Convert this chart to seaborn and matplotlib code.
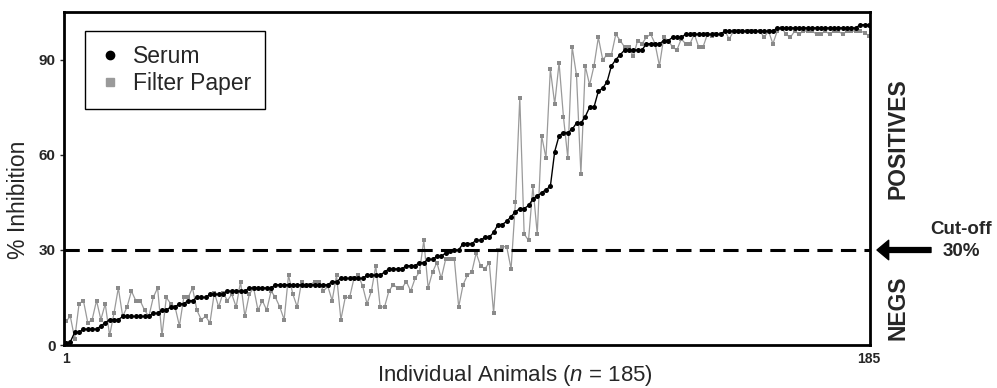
import numpy as np
import pandas as pd
import seaborn as sns
import matplotlib
matplotlib.use("Agg")
from matplotlib import pyplot as plt
from matplotlib.lines import Line2D

# % inhibition per animal, serum sorted ascending
serum = [0.5, 1, 4, 4, 5, 5, 5, 5, 6, 7,
         8, 8, 8, 9, 9, 9, 9, 9, 9, 9,
         10, 10, 11, 11, 12, 12, 13, 13, 14, 14,
         15, 15, 15, 16, 16, 16, 16, 17, 17, 17,
         17, 17, 18, 18, 18, 18, 18, 18, 19, 19,
         19, 19, 19, 19, 19, 19, 19, 19, 19, 19,
         19, 20, 20, 21, 21, 21, 21, 21, 21, 22,
         22, 22, 22, 23, 24, 24, 24, 24, 25, 25,
         25, 26, 26, 27, 27, 28, 28, 29, 29.5, 30,
         30, 32, 32, 32, 33, 33, 34, 34, 35.5, 38,
         38, 39, 40.5, 42, 43, 43, 44, 46, 47, 48,
         49, 50, 61, 66, 67, 67, 68, 70, 70, 72,
         75, 75, 80, 81, 83, 88, 90, 91.5, 93, 93,
         93, 93, 93, 95, 95, 95, 95, 96, 96, 97,
         97, 97, 98, 98, 98, 98, 98, 98, 98, 98,
         98, 99, 99, 99, 99, 99, 99, 99, 99, 99,
         99, 99, 99, 100, 100, 100, 100, 100, 100, 100,
         100, 100, 100, 100, 100, 100, 100, 100, 100, 100,
         100, 100, 101, 101, 101]

filter_paper = [7.5, 9, 2, 13, 14, 7, 8, 14, 8, 13,
                3, 10, 18, 9, 12, 17, 14, 14, 11, 9,
                15, 18, 3, 15, 13, 12, 6, 15, 15, 18,
                11, 8, 9, 7, 16.5, 12, 16.5, 14, 16, 12,
                20, 9, 16, 18, 11, 14, 11, 17, 15, 12,
                8, 22, 16, 12, 20, 18.5, 19, 20, 20, 17,
                18.5, 14, 22, 8, 15, 15, 21, 22, 18.5, 13,
                17, 25, 12, 12, 17, 19, 18, 18, 20, 17,
                21, 23, 33, 18, 23, 26, 21, 27, 27, 27,
                12, 19, 22, 23, 29, 25, 24, 26, 10, 30,
                31, 31, 24, 45, 78, 35, 33, 50, 35, 66,
                59, 87, 76, 89, 72, 59, 94, 85, 54, 88,
                82, 88, 97, 90, 91.5, 91.5, 98, 96, 94, 94,
                91, 96, 95, 97, 98, 95, 88, 97, 96, 94,
                93, 96.5, 95, 95, 98, 94, 94, 98, 97.5, 98,
                98, 99, 96.5, 99, 99, 99, 99, 99, 99, 99,
                97, 99, 95, 99, 100, 98, 97, 99, 98, 99,
                99, 99, 98, 98, 99, 98, 99, 99, 98, 99,
                99, 99, 99, 98.5, 97.5]

animals = np.arange(1, len(serum) + 1)
cutoff = 30

df = pd.DataFrame({'animal': animals, 'serum': serum, 'filter': filter_paper})

sns.set_theme(style='white')
plt.rcParams['font.family'] = ['Liberation Sans', 'DejaVu Sans']
plt.rcParams['mathtext.fontset'] = 'custom'
plt.rcParams['mathtext.it'] = 'Liberation Sans:italic'
plt.rcParams['mathtext.rm'] = 'Liberation Sans'

fig = plt.figure(figsize=(9.97, 3.88), dpi=100)
ax = fig.add_axes([0.0642, 0.1108, 0.8084, 0.8582])

gray = '#9a9a9a'
sns.lineplot(data=df, x='animal', y='filter', ax=ax, color=gray, linewidth=0.9,
             marker='s', markersize=3.4, markeredgewidth=0, markerfacecolor='#8a8a8a')
sns.lineplot(data=df, x='animal', y='serum', ax=ax, color='black', linewidth=1.0,
             marker='o', markersize=3.6, markeredgewidth=0)

ax.axhline(cutoff, color='black', linewidth=2.2, dashes=(5, 2.7))

ax.set_xlim(0.55, 185.25)
ax.set_ylim(0, 105)
ax.set_yticks([0, 30, 60, 90])
ax.set_xticks([1, 185])
ax.tick_params(axis='y', labelsize=11, length=3, width=1, pad=3, direction='out', left=True)
ax.tick_params(axis='x', labelsize=10, length=0, pad=5)
for lab in ax.get_xticklabels() + ax.get_yticklabels():
    lab.set_fontweight('bold')

for sp in ax.spines.values():
    sp.set_linewidth(2)
    sp.set_color('black')

ax.set_xlabel('Individual Animals ($n$ = 185)', fontsize=16)
ax.xaxis.set_label_coords(0.5596, -0.055)
ax.set_ylabel('% Inhibition', fontsize=16.5)
ax.yaxis.set_label_coords(-0.042, 0.435)

handles = [Line2D([], [], linestyle='none', marker='o', color='black', markersize=6),
           Line2D([], [], linestyle='none', marker='s', color=gray, markersize=5.5)]
leg = ax.legend(handles, ['Serum', 'Filter Paper'], loc='upper left',
                bbox_to_anchor=(0.026, 0.943), borderaxespad=0, fontsize=16.5,
                frameon=True, fancybox=False, edgecolor='black', framealpha=1,
                handlelength=1.0, handletextpad=0.5, labelspacing=0.2, borderpad=0.6)
leg.get_frame().set_linewidth(1.0)

# right-hand annotations
fig.text(898 / 997, 1 - 139 / 388, 'POSITIVES', rotation=90, fontsize=16.5,
         fontweight='bold', ha='center', va='center')
fig.text(898 / 997, 1 - 308 / 388, 'NEGS', rotation=90, fontsize=16.5,
         fontweight='bold', ha='center', va='center')
fig.text(961 / 997, 1 - 230 / 388, 'Cut-off', fontsize=13.5, fontweight='bold',
         ha='center', va='center')
fig.text(961 / 997, 1 - 252 / 388, '30%', fontsize=13.5, fontweight='bold',
         ha='center', va='center')
ax.annotate('', xy=(877 / 997, 1 - 250 / 388), xytext=(931 / 997, 1 - 250 / 388),
            xycoords='figure fraction', textcoords='figure fraction',
            arrowprops=dict(arrowstyle='simple,head_length=0.6,head_width=1.0,tail_width=0.25',
                            color='black', mutation_scale=14, shrinkA=0, shrinkB=0))

fig.savefig('out.png', dpi=100)
plt.close(fig)
